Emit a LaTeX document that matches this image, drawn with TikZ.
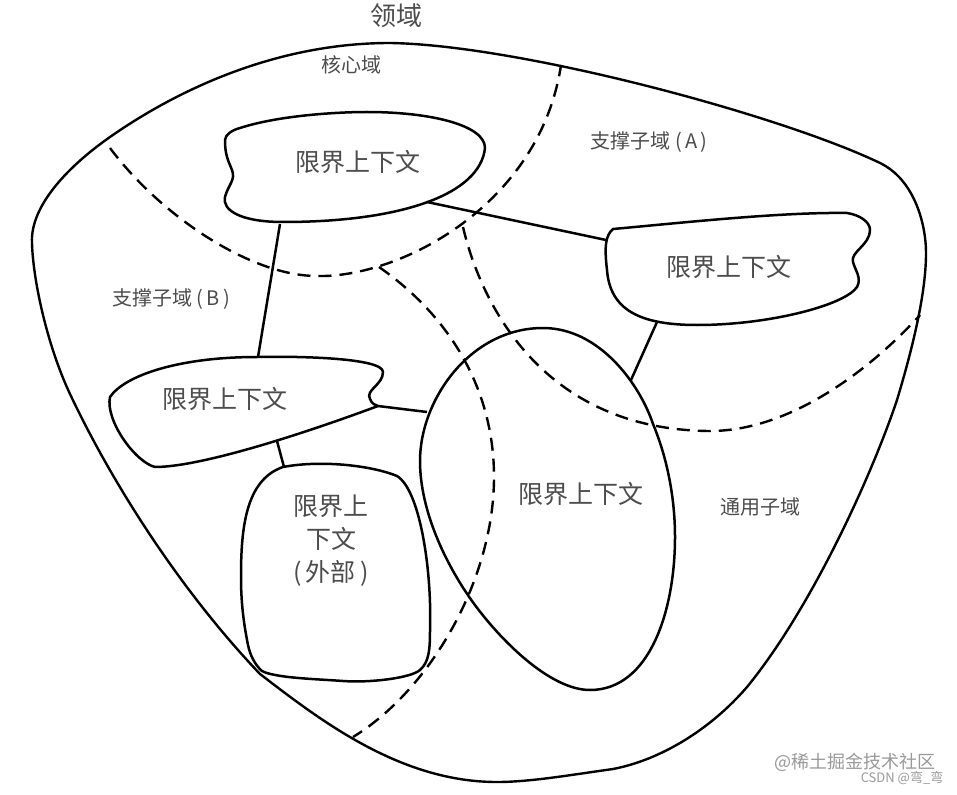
\documentclass[tikz,border=0pt]{standalone}
\usepackage{fontspec}
\setmainfont{Noto Sans CJK SC}
\tikzstyle{domainline} = [line width=2.4pt, line join=round]
\tikzstyle{blob} = [line width=2.5pt, line join=round]
\tikzstyle{split} = [line width=2.4pt, dash pattern=on 13pt off 8pt]
\tikzstyle{link} = [line width=2.5pt]
\tikzstyle{ctxtext} = [text=black!70, font=\fontsize{25}{33}\selectfont, inner sep=0pt, align=center]
\tikzstyle{subtext} = [text=black!70, font=\fontsize{20}{24}\selectfont, inner sep=0pt]

\begin{document}
\begin{tikzpicture}[x=1pt, y=-1pt]
        \useasboundingbox (0,0) rectangle (957,794);
        % domain
        \draw [domainline] (32,243) .. controls (30,205) and (70,165) .. (110,137)
            .. controls (170,95) and (270,43) .. (390,43)
            .. controls (520,45) and (780,115) .. (880,163)
            .. controls (915,180) and (926,225) .. (926,253)
            .. controls (926,290) and (915,340) .. (897,400)
            .. controls (870,480) and (810,610) .. (747,687)
            .. controls (710,730) and (660,760) .. (613,769)
            .. controls (570,775) and (530,782) .. (497,782)
            .. controls (400,782) and (320,720) .. (260,674)
            .. controls (180,590) and (112,483) .. (70,394)
            .. controls (47,345) and (33,280) .. (32,243) -- cycle;
        % subdomain borders
        \draw [split] (110,148) .. controls (160,215) and (250,276) .. (317,276)
            .. controls (400,278) and (540,205) .. (561,65);
        \draw [split] (379,267) .. controls (455,320) and (494,395) .. (494,477)
            .. controls (494,580) and (430,690) .. (353,737);
        \draw [split] (463,227) .. controls (480,300) and (540,430) .. (710,431)
            .. controls (790,431) and (870,370) .. (920,315);
        % contexts
        \draw [blob] (240,128) .. controls (280,115) and (340,112) .. (367,112)
            .. controls (430,112) and (485,125) .. (485,148)
            .. controls (480,195) and (400,222) .. (283,222)
            .. controls (240,222) and (222,210) .. (225,197)
            .. controls (228,185) and (236,180) .. (232,170)
            .. controls (228,160) and (225,155) .. (225,140)
            .. controls (225,135) and (232,130) .. (240,128) -- cycle;
        \draw [blob] (613,229) .. controls (680,223) and (780,212) .. (847,213)
            .. controls (860,215) and (870,222) .. (870,230)
            .. controls (870,245) and (850,252) .. (853,262)
            .. controls (855,270) and (862,278) .. (857,287)
            .. controls (845,305) and (770,325) .. (697,325)
            .. controls (640,325) and (610,310) .. (607,270)
            .. controls (604,245) and (606,235) .. (613,229) -- cycle;
        \draw [blob] (110,397) .. controls (125,375) and (180,357) .. (257,357)
            .. controls (300,356) and (383,358) .. (383,372)
            .. controls (383,385) and (365,390) .. (370,399)
            .. controls (372,404) and (375,405) .. (378,406)
            .. controls (300,435) and (200,467) .. (155,467)
            .. controls (135,462) and (105,420) .. (110,397) -- cycle;
        \draw [blob] (283,467) .. controls (320,460) and (370,465) .. (397,476)
            .. controls (420,490) and (432,570) .. (430,630)
            .. controls (430,650) and (429,662) .. (420,670)
            .. controls (411,678) and (370,683) .. (343,681)
            .. controls (316,679) and (275,678) .. (262,671)
            .. controls (255,665) and (250,655) .. (248,645)
            .. controls (243,620) and (241,600) .. (241,577)
            .. controls (241,530) and (245,480) .. (283,467) -- cycle;
        \draw [blob] (543,328) .. controls (600,328) and (640,385) .. (653,424)
            .. controls (668,460) and (675,500) .. (675,537)
            .. controls (675,610) and (650,690) .. (590,690)
            .. controls (550,690) and (500,640) .. (472,601)
            .. controls (445,563) and (420,510) .. (420,461)
            .. controls (420,400) and (470,328) .. (543,328) -- cycle;
        % ends of the links
        \coordinate (coreS) at (280,224);
        \coordinate (coreE) at (427,202);
        \coordinate (aW) at (606,240);
        \coordinate (aS) at (657,322);
        \coordinate (bigN) at (631,380);
        \coordinate (bigW) at (427,412);
        \coordinate (bN) at (258,357);
        \coordinate (bE) at (378,406);
        \coordinate (bS) at (277,441);
        \coordinate (extN) at (284,467);
        \draw [link] (coreE) -- (aW);
        \draw [link] (coreS) -- (bN);
        \draw [link] (aS) -- (bigN);
        \draw [link] (bE) -- (bigW);
        \draw [link] (bS) -- (extN);
        % texts
        \node (title) [subtext, font=\fontsize{26}{30}\selectfont] at (396,16) {领域};
        \node (core) [subtext] at (351,65) {核心域};
        \node (suba) [subtext] at (649,142) {支撑子域 (\,A\,)};
        \node (subb) [subtext] at (171,299) {支撑子域 (\,B\,)};
        \node (generic) [subtext] at (760,507) {通用子域};
        \node (ctxcore) [ctxtext] at (358,162) {限界上下文};
        \node (ctxa) [ctxtext] at (729,267) {限界上下文};
        \node (ctxb) [ctxtext] at (225,399) {限界上下文};
        \node (ctxbig) [ctxtext] at (581,494) {限界上下文};
        \node (ctxext) [ctxtext] at (331,541) {限界上\\下文\\(\,外部\,)};
        \node (mark) [text=black!40, font=\fontsize{18}{22}\selectfont, inner sep=0pt] at (855,762) {@稀土掘金技术社区};
        \node (csdn) [text=black!40, font=\fontsize{13}{15}\selectfont, inner sep=0pt] at (902,778) {CSDN @弯\_弯};
    \end{tikzpicture}
\end{document}
